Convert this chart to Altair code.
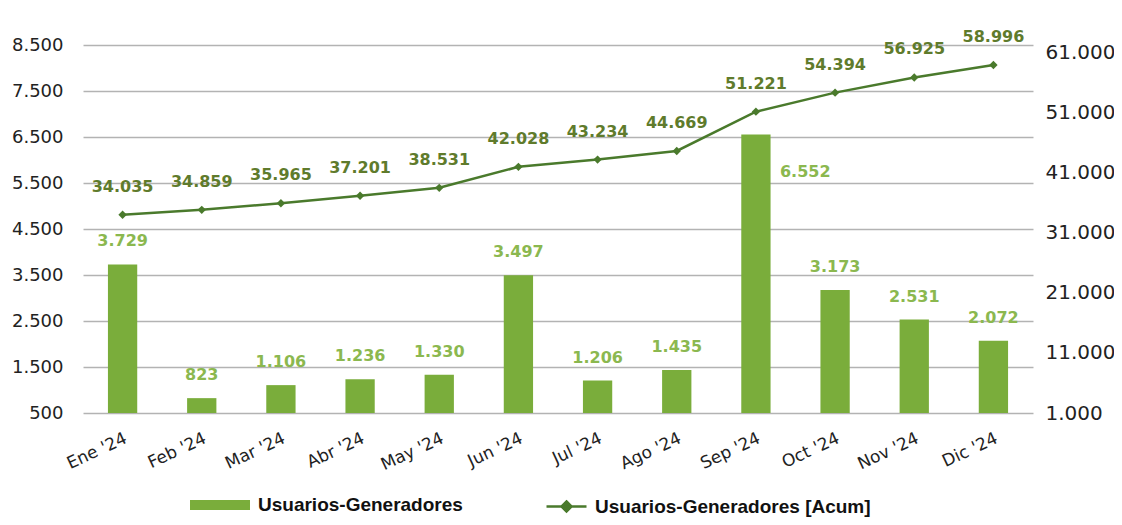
import altair as alt
import pandas as pd

months = ["Ene '24", "Feb '24", "Mar '24", "Abr '24", "May '24", "Jun '24",
          "Jul '24", "Ago '24", "Sep '24", "Oct '24", "Nov '24", "Dic '24"]
monthly = [3729, 823, 1106, 1236, 1330, 3497, 1206, 1435, 6552, 3173, 2531, 2072]
acum = [34035, 34859, 35965, 37201, 38531, 42028, 43234, 44669, 51221, 54394, 56925, 58996]
left_ticks = [500, 1500, 2500, 3500, 4500, 5500, 6500, 7500, 8500]
right_ticks = [1000, 11000, 21000, 31000, 41000, 51000, 61000]
bar_name = "Usuarios-Generadores"
line_name = "Usuarios-Generadores [Acum]"

df = pd.DataFrame({"mes": months, "monthly": monthly, "acum": acum,
                   "s_bar": bar_name, "s_line": line_name})

BAR = "#7aad3b"
LINE = "#4a7a2c"
BAR_LBL = "#8bb84f"
LINE_LBL = "#5f7b2c"
NUM_FONT = "DejaVu Sans"
fmt = "replace(format({v}, ','), ',', '.')"

x = alt.X("mes:N", sort=months, title=None,
          scale=alt.Scale(paddingInner=0.63, paddingOuter=0.315),
          axis=alt.Axis(labelAngle=-25, labelFont=NUM_FONT, labelFontSize=17,
                        labelColor="#222222", domain=False, ticks=False,
                        labelPadding=17, labelOffset=0))

yl = alt.Y("monthly:Q", title=None,
           scale=alt.Scale(domain=[500, 8500], nice=False, zero=False),
           axis=alt.Axis(values=left_ticks, labelExpr=fmt.format(v="datum.value"),
                         labelFont=NUM_FONT, labelFontSize=18, labelColor="#222222",
                         domain=False, ticks=False, labelPadding=20,
                         grid=True, gridColor="#b3b3b3", gridWidth=1.6))

yr = alt.Y("acum:Q", title=None,
           scale=alt.Scale(domain=[1000, 62333], nice=False, zero=False),
           axis=alt.Axis(orient="right", values=right_ticks,
                         labelExpr=fmt.format(v="datum.value"),
                         labelFont=NUM_FONT, labelFontSize=20, labelColor="#222222",
                         domain=False, ticks=False, labelPadding=12, grid=False))

base = alt.Chart(df).transform_calculate(
    lbl_m=fmt.format(v="datum.monthly"),
    lbl_a=fmt.format(v="datum.acum"),
)

bars = base.mark_bar().encode(
    x=x, y=yl, y2=alt.datum(500),
    color=alt.Color("s_bar:N",
                    scale=alt.Scale(domain=[bar_name], range=[BAR]),
                    legend=alt.Legend(title=None, orient="none", legendX=107, legendY=430,
                                      symbolType="M-1,-0.17H1V0.17H-1Z", symbolSize=3600,
                                      symbolStrokeWidth=0, labelFont="Liberation Sans",
                                      labelFontWeight="bold", labelFontSize=19,
                                      labelColor="#111111", labelOffset=8, labelLimit=0)),
)

bar_lbl = base.mark_text(font=NUM_FONT, fontSize=16, fontWeight="bold", color=BAR_LBL,
                         dy=-23, baseline="middle").encode(
    x=x, y=yl, text="lbl_m:N"
).transform_filter(alt.datum.mes != "Sep '24")

bar_lbl_sep = base.mark_text(font=NUM_FONT, fontSize=16, fontWeight="bold", color=BAR_LBL,
                             dx=24, dy=37, align="left", baseline="middle").encode(
    x=x, y=yl, text="lbl_m:N"
).transform_filter(alt.datum.mes == "Sep '24")

line = base.mark_line(strokeWidth=2.5).encode(
    x=x, y=yr,
    stroke=alt.Stroke("s_line:N",
                      scale=alt.Scale(domain=[line_name], range=[LINE]),
                      legend=alt.Legend(title=None, orient="none", legendX=462, legendY=440,
                                        symbolType="M-1,0H1M0,-0.25L0.25,0L0,0.25L-0.25,0Z",
                                        symbolSize=1600, symbolStrokeWidth=2.5,
                                        symbolFillColor=LINE,
                                        labelFont="Liberation Sans",
                                        labelFontWeight="bold", labelFontSize=19,
                                        labelColor="#111111", labelOffset=7, labelLimit=0)),
)

pts = base.mark_point(shape="diamond", filled=True, size=70, color=LINE, opacity=1).encode(
    x=x, y=yr
)

line_lbl = base.mark_text(font=NUM_FONT, fontSize=16, fontWeight="bold", color=LINE_LBL,
                          dy=-28, baseline="middle").encode(
    x=x, y=yr, text="lbl_a:N"
)

left = alt.layer(bars, bar_lbl, bar_lbl_sep)
right = alt.layer(line, pts, line_lbl)

chart = alt.layer(left, right).resolve_scale(
    y="independent", color="independent", stroke="independent"
).properties(
    width=950, height=368,
    autosize=alt.AutoSizeParams(type="none"),
    padding={"left": 75, "top": 37, "right": 81, "bottom": 106},
).configure_view(stroke=None)

chart.save("out.html", embed_options={"renderer": "svg", "actions": False})
